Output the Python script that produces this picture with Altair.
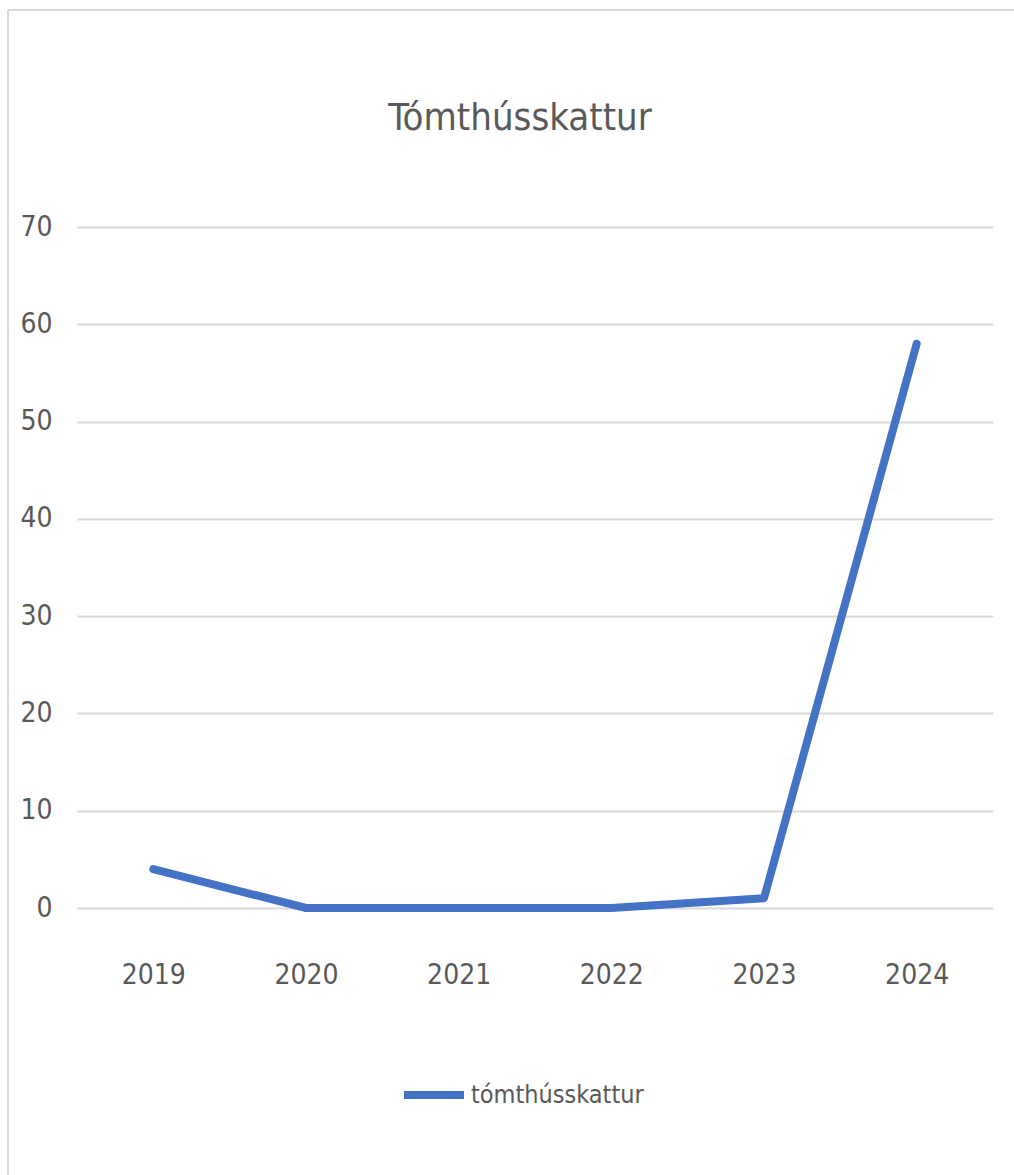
import altair as alt
import pandas as pd

# Yearly counts of the empty-house tax
years = ["2019", "2020", "2021", "2022", "2023", "2024"]
values = [4, 0, 0, 0, 1, 58]
series_name = "tómthússkattur"
chart_title = "Tómthússkattur"
y_ticks = [0, 10, 20, 30, 40, 50, 60, 70]

FONT = "Liberation Sans Narrow, DejaVu Sans Condensed, Open Sans, sans-serif"
TEXT = "#595959"
GRID = "#d9d9d9"
BLUE = "#4472C4"

df = pd.DataFrame({"year": years, "value": values, "series": [series_name] * len(years)})

line = (
    alt.Chart(df)
    .mark_line(strokeWidth=8, strokeCap="round", strokeJoin="round")
    .encode(
        x=alt.X(
            "year:O",
            scale=alt.Scale(type="point", padding=0.5),
            axis=alt.Axis(
                title=None,
                labelAngle=0,
                labelFontSize=28,
                labelColor=TEXT,
                labelFont=FONT,
                labelBaseline="middle",
                labelPadding=67,
                ticks=False,
                tickSize=0,
                domain=False,
                grid=False,
            ),
        ),
        y=alt.Y(
            "value:Q",
            scale=alt.Scale(domain=[0, 70], nice=False),
            axis=alt.Axis(
                title=None,
                values=y_ticks,
                labelFontSize=28,
                labelColor=TEXT,
                labelFont=FONT,
                labelPadding=25,
                ticks=False,
                tickSize=0,
                domain=False,
                grid=True,
                gridColor=GRID,
                gridWidth=2,
            ),
        ),
        color=alt.Color(
            "series:N",
            scale=alt.Scale(range=[BLUE]),
            legend=alt.Legend(
                title=None,
                orient="none",
                legendX=323,
                legendY=834,
                symbolType="stroke",
                symbolSize=3600,
                symbolStrokeWidth=8,
                labelFontSize=25,
                labelFont=FONT,
                labelColor=TEXT,
                labelOffset=3,
                labelLimit=500,
            ),
        ),
    )
)

single = pd.DataFrame({"label": [chart_title]})

# Chart heading, centred over the chart area
heading = alt.Chart(single).mark_text(
    fontSize=38, font=FONT, color=TEXT, align="center", baseline="alphabetic"
).encode(text="label:N", x=alt.value(443), y=alt.value(-97))

# Light frame along the top and left edges of the chart
frame_left = alt.Chart(single).mark_rule(color=GRID, strokeWidth=2).encode(
    x=alt.value(-69), y=alt.value(-217), y2=alt.value(948)
)
frame_top = alt.Chart(single).mark_rule(color=GRID, strokeWidth=2).encode(
    x=alt.value(-69), x2=alt.value(937), y=alt.value(-217)
)

chart = (
    alt.layer(line, heading, frame_left, frame_top)
    .properties(
        width=916,
        height=681,
        autosize=alt.AutoSizeParams(type="none"),
        padding={"left": 77, "top": 227, "right": 21, "bottom": 267},
    )
    .configure(background="white")
    .configure_view(strokeWidth=0, stroke="transparent")
)

chart.save("out.html", embed_options={"renderer": "svg", "actions": False})
